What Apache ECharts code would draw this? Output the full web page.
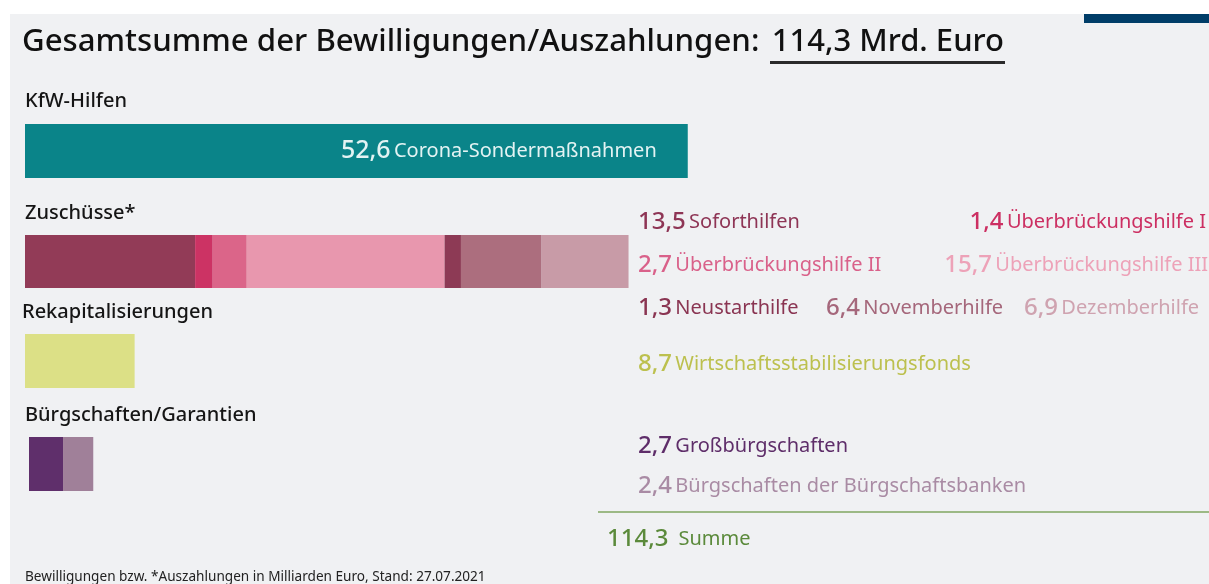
<!DOCTYPE html>
<html>
<head>
<meta charset="utf-8">
<script src="https://cdn.jsdelivr.net/npm/echarts@6/dist/echarts.min.js"></script>
<style>
    html, body { margin: 0; padding: 0; background: #fff; }
    #main { width: 1209px; height: 584px; }
</style>
</head>
<body>
<div id="main"></div>
<script type="text/javascript">
    // Daten (Mrd. Euro)
    var groups = ['KfW-Hilfen', 'Zuschüsse*', 'Rekapitalisierungen', 'Bürgschaften/Garantien'];
    var kfwNames = ['Corona-Sondermaßnahmen'];
    var kfwValues = [52.6];
    var zuschussNames = ['Soforthilfen', 'Überbrückungshilfe I', 'Überbrückungshilfe II', 'Überbrückungshilfe III',
        'Neustarthilfe', 'Novemberhilfe', 'Dezemberhilfe'];
    var zuschussValues = [13.5, 1.4, 2.7, 15.7, 1.3, 6.4, 6.9];
    var rekapNames = ['Wirtschaftsstabilisierungsfonds'];
    var rekapValues = [8.7];
    var buergNames = ['Großbürgschaften', 'Bürgschaften der Bürgschaftsbanken'];
    var buergValues = [2.7, 2.4];
    var totalValue = 114.3;

    // Farben
    var kfwColors = ['#0a8489'];
    var zuschussColors = ['#923b57', '#cc3364', '#db6589', '#e897ae', '#8d3a55', '#ac6e7e', '#c89ba7'];
    var zuschussTextColors = ['#8e3555', '#cc2f62', '#d9618a', '#eda2b8', '#8a3552', '#a5677b', '#cfa3b0'];
    var rekapColors = ['#dce086'];
    var rekapTextColors = ['#bcc04e'];
    var buergColors = ['#5f2f6b', '#a08099'];
    var buergTextColors = ['#5e2d69', '#a98ba4'];

    function fmt(v) {
        return v.toFixed(1).replace('.', ',');
    }

    var font = '"Noto Sans", "Open Sans", sans-serif';
    var myChart = echarts.init(document.getElementById('main'));

    // je Gruppe ein eigenes Grid (Abstände im Original sind ungleich)
    var gridBoxes = [
        {left: 25, top: 124, height: 54},
        {left: 25, top: 235, height: 53},
        {left: 25, top: 334, height: 54},
        {left: 29, top: 437, height: 54}
    ];
    var grids = [], xAxes = [], yAxes = [];
    gridBoxes.forEach(function (b, i) {
        grids.push({left: b.left, top: b.top, height: b.height, width: 756});
        xAxes.push({type: 'value', gridIndex: i, min: 0, max: 60, show: false});
        yAxes.push({type: 'category', gridIndex: i, data: [groups[i]], show: false});
    });

    var series = [];
    function addGroup(idx, names, values, colors, label) {
        values.forEach(function (v, k) {
            series.push({
                name: names[k],
                type: 'bar',
                stack: 'g' + idx,
                xAxisIndex: idx,
                yAxisIndex: idx,
                barWidth: '100%',
                data: [v],
                itemStyle: {color: colors[k]},
                label: label || {show: false},
                silent: true
            });
        });
    }
    addGroup(0, kfwNames, kfwValues, kfwColors, {
        show: true,
        position: 'insideRight',
        distance: 31,
        formatter: function (p) { return '{v|' + fmt(p.value) + '} {n|' + p.seriesName + '}'; },
        rich: {
            v: {fontFamily: font, fontSize: 25, fontWeight: 500, color: '#e3f3f3'},
            n: {fontFamily: font, fontSize: 20, color: '#e3f3f3'}
        }
    });
    addGroup(1, zuschussNames, zuschussValues, zuschussColors);
    addGroup(2, rekapNames, rekapValues, rekapColors);
    addGroup(3, buergNames, buergValues, buergColors);

    // Beschriftungen rechts
    function legendText(value, name, color, x, y, align, gap) {
        return {
            type: 'text',
            x: x, y: y,
            style: {
                text: '{v|' + fmt(value) + '}' + (gap || ' ') + '{n|' + name + '}',
                align: align || 'left',
                verticalAlign: 'middle',
                rich: {
                    v: {fontFamily: font, fontSize: 24, fontWeight: 500, fill: color},
                    n: {fontFamily: font, fontSize: 20, fill: color}
                }
            }
        };
    }
    var zPos = [[638, 222, 'left'], [1206, 222, 'right'], [638, 265, 'left'], [1208, 265, 'right'],
        [638, 308, 'left'], [826, 308, 'left'], [1024, 308, 'left']];
    var graphics = [
        // weiße Ränder oben/links, blauer Balken
        {type: 'rect', shape: {x: 0, y: 0, width: 1209, height: 14}, style: {fill: '#fff'}},
        {type: 'rect', shape: {x: 0, y: 0, width: 10, height: 584}, style: {fill: '#fff'}},
        {type: 'rect', shape: {x: 1084, y: 14, width: 125, height: 9}, style: {fill: '#003d68'}},
        {
            type: 'text', x: 22, y: 42,
            style: {
                text: 'Gesamtsumme der Bewilligungen/Auszahlungen:',
                fontFamily: font, fontSize: 31.2, fontWeight: 500, fill: '#111', verticalAlign: 'middle'
            }
        },
        {
            type: 'text', x: 1004, y: 42,
            style: {
                text: fmt(totalValue) + ' Mrd. Euro',
                fontFamily: font, fontSize: 31, fontWeight: 500, fill: '#111', verticalAlign: 'middle', align: 'right'
            }
        },
        {type: 'rect', shape: {x: 770, y: 61, width: 235, height: 3}, style: {fill: '#2a2a2a'}},
        {type: 'line', shape: {x1: 598, y1: 512, x2: 1209, y2: 512}, style: {stroke: '#9cb985', lineWidth: 2}},
        legendText(totalValue, 'Summe', '#5b8a3b', 607, 539, 'left', '   '),
        {
            type: 'text', x: 25, y: 577,
            style: {
                text: 'Bewilligungen bzw. *Auszahlungen in Milliarden Euro, Stand: 27.07.2021',
                fontFamily: font, fontSize: 13.6, fill: '#222', verticalAlign: 'middle'
            }
        }
    ];
    // Gruppenüberschriften
    var headPos = [[25, 101], [25, 213], [22, 312], [25, 415]];
    groups.forEach(function (g, i) {
        graphics.push({
            type: 'text', x: headPos[i][0], y: headPos[i][1],
            style: {text: g, fontFamily: font, fontSize: 20, fontWeight: 500, fill: '#151515', verticalAlign: 'middle'}
        });
    });
    zuschussValues.forEach(function (v, k) {
        graphics.push(legendText(v, zuschussNames[k], zuschussTextColors[k], zPos[k][0], zPos[k][1], zPos[k][2]));
    });
    graphics.push(legendText(rekapValues[0], rekapNames[0], rekapTextColors[0], 638, 364));
    graphics.push(legendText(buergValues[0], buergNames[0], buergTextColors[0], 638, 446));
    graphics.push(legendText(buergValues[1], buergNames[1], buergTextColors[1], 638, 486));

    var option = {
        backgroundColor: '#f0f1f3',
        animation: false,
        grid: grids,
        xAxis: xAxes,
        yAxis: yAxes,
        series: series,
        graphic: graphics
    };
    myChart.setOption(option);
</script>
</body>
</html>
